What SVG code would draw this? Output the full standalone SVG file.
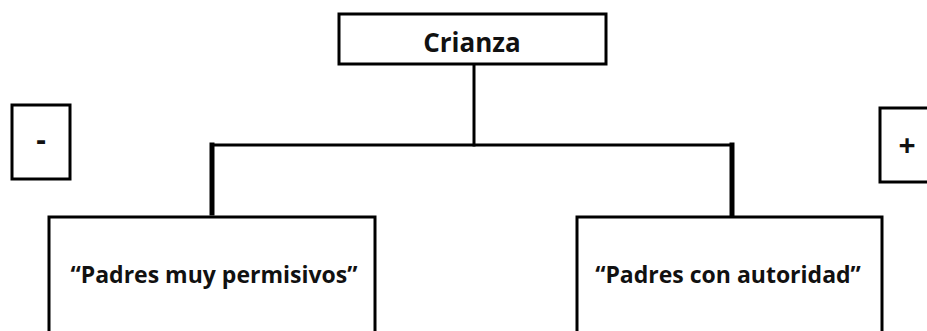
<svg xmlns="http://www.w3.org/2000/svg" width="927" height="331" viewBox="0 0 927 331">
<style>
.box{fill:#fff;stroke:#000;stroke-width:3}
.t{font-family:"Open Sans","Liberation Sans",sans-serif;font-weight:bold;fill:#111;text-anchor:middle}
.c{fill:none;stroke:#000;stroke-linecap:square}
</style>
<rect width="927" height="331" fill="#fff"/>
<g id="connectors">
<line class="c" x1="474" y1="64" x2="474" y2="145" stroke-width="3"/>
<line class="c" x1="212" y1="145" x2="732" y2="145" stroke-width="3"/>
<line class="c" x1="212" y1="145" x2="212" y2="213" stroke-width="5"/>
<line class="c" x1="732" y1="145" x2="732" y2="217" stroke-width="5"/>
</g>
<g id="crianza">
<rect class="box" x="339" y="14" width="267" height="50"/>
<text class="t" x="472" y="52" font-size="26">Crianza</text>
</g>
<g id="minus">
<rect class="box" x="12" y="105" width="58" height="74"/>
<text class="t" x="41" y="150" font-size="30">-</text>
</g>
<g id="plus">
<rect class="box" x="880" y="108" width="60" height="74"/>
<text class="t" x="907" y="156" font-size="30" font-weight="normal">+</text>
</g>
<g id="permisivos">
<rect class="box" x="49" y="217" width="326" height="130"/>
<text class="t" x="214" y="283" font-size="23">“Padres muy permisivos”</text>
</g>
<g id="autoridad">
<rect class="box" x="577" y="217" width="305" height="130"/>
<text class="t" x="728" y="283" font-size="23">“Padres con autoridad”</text>
</g>
</svg>
